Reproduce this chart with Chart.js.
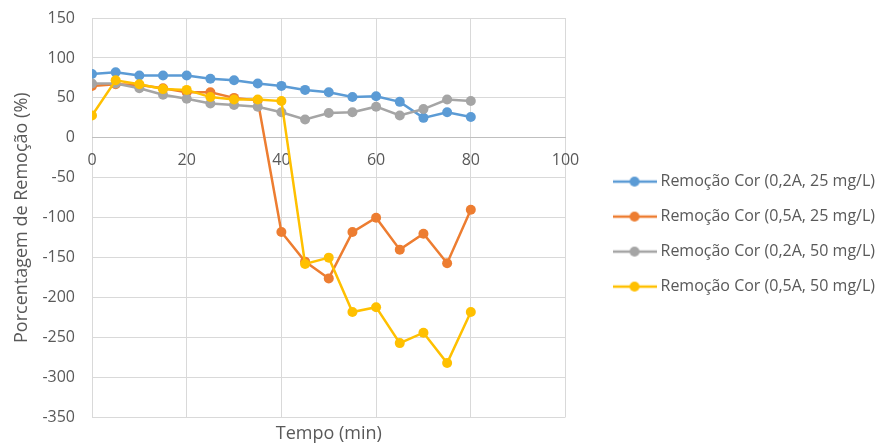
<!DOCTYPE html>
<html>
<head>
<meta charset="utf-8">
<script src="https://cdn.jsdelivr.net/npm/chart.js@4.4.1/dist/chart.umd.min.js"></script>
<style>
  html, body { margin: 0; padding: 0; background: #ffffff; }
  #wrap { width: 895px; height: 445px; }
</style>
</head>
<body>
<div id="wrap"><canvas id="corChart"></canvas></div>
<script>
// Tempo (min) e porcentagem de remoção de cor
const tempos = [0, 5, 10, 15, 20, 25, 30, 35, 40, 45, 50, 55, 60, 65, 70, 75, 80];
const remocao02A25 = [80, 82, 78, 78, 78, 74, 72, 68, 65, 60, 57, 51, 52, 45, 25, 32, 26];
const remocao05A25 = [65, 67, 66, 62, 57, 57, 50, 47, -118, -155, -176, -118, -100, -140, -120, -157, -90];
const remocao02A50 = [68, 68, 62, 54, 49, 43, 41, 39, 32, 23, 31, 32, 39, 28, 36, 48, 46];
const remocao05A50 = [28, 72, 67, 61, 60, 51, 48, 48, 46, -158, -150, -218, -212, -257, -244, -282, -218];
const ticksX = [0, 20, 40, 60, 80, 100];
const ticksY = [-350, -300, -250, -200, -150, -100, -50, 0, 50, 100, 150];

const corTexto = '#595959';
const corGrade = '#d9d9d9';
Chart.defaults.font.family = "'Open Sans', sans-serif";
Chart.defaults.color = corTexto;

function pares(valores) {
    return tempos.map((t, i) => ({ x: t, y: valores[i] }));
}

// marcador da legenda: linha com círculo, como no Excel
function marcador(cor) {
    const c = document.createElement('canvas');
    c.width = 44;
    c.height = 12;
    const g = c.getContext('2d');
    g.strokeStyle = cor;
    g.lineWidth = 2.5;
    g.beginPath();
    g.moveTo(0, 6);
    g.lineTo(44, 6);
    g.stroke();
    g.fillStyle = cor;
    g.beginPath();
    g.arc(22, 6, 5, 0, Math.PI * 2);
    g.fill();
    return c;
}

function serie(label, valores, cor, ordem) {
    return {
        label: label,
        data: pares(valores),
        borderColor: cor,
        backgroundColor: cor,
        borderWidth: 2.5,
        pointRadius: 5,
        pointBorderWidth: 0,
        pointBackgroundColor: cor,
        tension: 0,
        order: ordem
    };
}

const series = [
    serie('Remoção Cor (0,2A, 25 mg/L)', remocao02A25, '#5b9bd5', 3),
    serie('Remoção Cor (0,5A, 25 mg/L)', remocao05A25, '#ed7d31', 2),
    serie('Remoção Cor (0,2A, 50 mg/L)', remocao02A50, '#a5a5a5', 1),
    serie('Remoção Cor (0,5A, 50 mg/L)', remocao05A50, '#ffc000', 0)
];
const marcadores = series.map(s => marcador(s.borderColor));

const ctx = document.getElementById('corChart').getContext('2d');
const chart = new Chart(ctx, {
    type: 'line',
    data: { datasets: series },
    options: {
        responsive: true,
        maintainAspectRatio: false,
        animation: false,
        layout: { padding: { top: 18, left: 0, right: 10, bottom: 0 } },
        plugins: {
            tooltip: { enabled: false },
            legend: {
                position: 'right',
                maxWidth: 340,
                title: { display: true, text: '', font: { size: 1 }, padding: { top: 2, bottom: 2 } },
                labels: {
                    usePointStyle: true,
                    pointStyleWidth: 36,
                    padding: 19,
                    color: corTexto,
                    font: { size: 16 },
                    generateLabels: function(chart) {
                        return chart.data.datasets.map((ds, i) => ({
                            text: ds.label,
                            fillStyle: ds.borderColor,
                            strokeStyle: ds.borderColor,
                            lineWidth: 0,
                            pointStyle: marcadores[i],
                            fontColor: corTexto,
                            hidden: !chart.isDatasetVisible(i),
                            datasetIndex: i
                        }));
                    }
                }
            }
        },
        scales: {
            x: {
                type: 'linear',
                min: 0,
                max: 100,
                afterBuildTicks: s => { s.ticks = ticksX.map(v => ({ value: v })); },
                grid: { color: corGrade, lineWidth: 1, drawTicks: false },
                border: { display: false },
                ticks: { display: false },
                title: {
                    display: true,
                    text: 'Tempo (min)',
                    color: corTexto,
                    font: { size: 18 },
                    padding: { top: 6, bottom: 0 }
                }
            },
            // eixo horizontal cruzando no zero
            x0: {
                type: 'linear',
                axis: 'x',
                position: { y: 0 },
                min: 0,
                max: 100,
                afterBuildTicks: s => { s.ticks = ticksX.map(v => ({ value: v })); },
                grid: { display: false, drawTicks: false },
                border: { display: true, color: '#bfbfbf', width: 1 },
                ticks: { color: corTexto, font: { size: 16 }, padding: 13, maxRotation: 0 }
            },
            y: {
                min: -350,
                max: 150,
                afterBuildTicks: s => { s.ticks = ticksY.map(v => ({ value: v })); },
                afterFit: s => { s.width = 92; s.paddingTop = 0; s.paddingBottom = 0; },
                grid: { color: corGrade, lineWidth: 1, drawTicks: false },
                border: { display: false },
                ticks: { color: corTexto, font: { size: 16 }, padding: 17 },
                title: {
                    display: true,
                    text: 'Porcentagem de Remoção (%)',
                    color: corTexto,
                    font: { size: 18 },
                    padding: { top: 11, bottom: 10 }
                }
            },
            // espaço entre a área do gráfico e a legenda
            yEspaco: {
                position: 'right',
                min: -350,
                max: 150,
                grid: { display: false },
                border: { display: false },
                ticks: { display: false },
                afterFit: s => { s.width = 32; s.paddingTop = 0; s.paddingBottom = 0; }
            }
        }
    }
});
</script>
</body>
</html>
